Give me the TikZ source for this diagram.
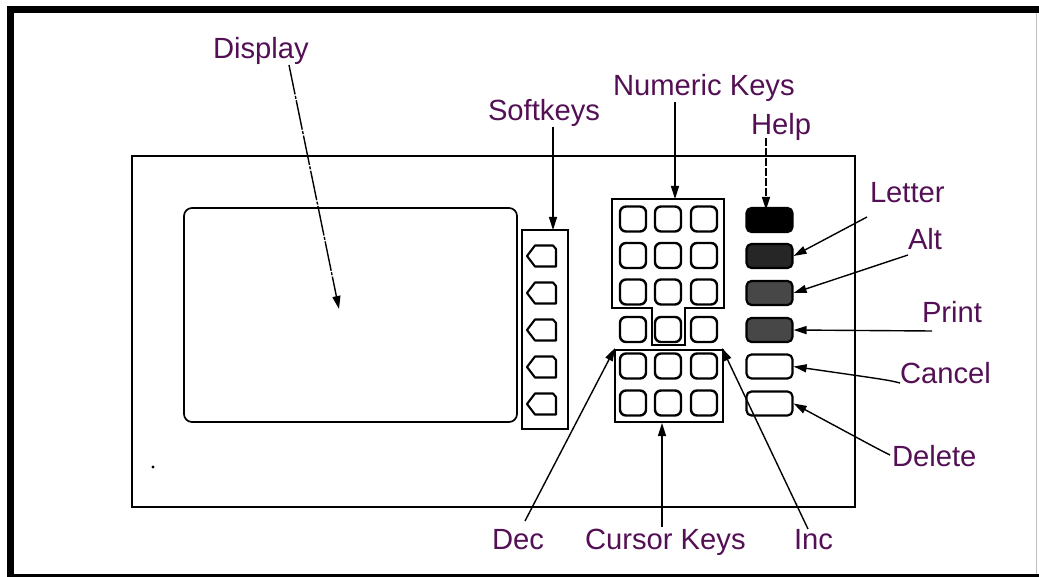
\documentclass[tikz,border=0pt]{standalone}
\usepackage{fontspec}
\setmainfont{Liberation Sans}
\usetikzlibrary{arrows.meta}
\definecolor{lab}{RGB}{84,16,84}
\tikzset{
  lbl/.style={anchor=base west, inner sep=0pt, outer sep=0pt, text=lab, font=\fontsize{29.2}{31}\selectfont},
  key/.style={draw, line width=2.4pt, rounded corners=6pt, minimum width=26pt, minimum height=25pt, inner sep=0pt},
  rkey/.style={draw, line width=2.2pt, rounded corners=5pt, minimum width=46pt, minimum height=24pt, inner sep=0pt},
  arr/.style={line width=1.4pt, -{Triangle[length=13pt,width=8pt]}},
  frame/.style={line width=2.8pt},
  soft/.style={line width=2.1pt, line join=round}
}
\begin{document}
\begin{tikzpicture}[x=1pt,y=-1pt]
\useasboundingbox (0,0) rectangle (1039,577);
% outer frame
\fill (7,6) rectangle (1039,13);
\fill (7,6) rectangle (14,577);
\fill (7,574) rectangle (1039,577);
\draw[black!25, line width=0.8pt] (1036.5,13) -- (1036.5,574);
% panel
\draw[frame] (132,156) rectangle (855,507);
% display
\draw[line width=1.7pt, rounded corners=8pt] (184,208) rectangle (517,422);
\fill (153,467) circle (1.7pt);
% softkeys
\draw[frame] (522,230) rectangle (568,429);
\foreach \y in {256,293,330,367,404}{
  \draw[soft] (527,\y) -- (535,\y-10.5) -- (553,\y-10.5) -- (556,\y-7) -- (556,\y+10.5) -- (535,\y+10.5) -- cycle;
}
% numeric outline
\draw[frame, line join=miter] (612,199) -- (724,199) -- (724,308) -- (685,308) -- (685,345) -- (652,345) -- (652,308) -- (612,308) -- cycle;
% cursor outline
\draw[frame] (615,350) rectangle (723,422);
% keys
\foreach \r/\yy in {1/219,2/255.5,3/292,4/329.5,5/366,6/403}{
  \foreach \c/\xx in {1/633,2/668,3/704}{
    \node[key] (n\r\c) at (\xx,\yy) {};
  }
}
% right keys
\node[rkey, fill=black] (kH) at (769.5,220) {};
\node[rkey, fill=black!85] (kL) at (769.5,256) {};
\node[rkey, fill=black!72] (kA) at (769.5,293) {};
\node[rkey, fill=black!72] (kP) at (769.5,330) {};
\node[rkey] (kC) at (769.5,366.5) {};
\node[rkey] (kD) at (769.5,403.5) {};
% labels
\node[lbl] (lDisplay) at (213,59) {Display};
\node[lbl] (lSoft) at (488,121) {Softkeys};
\node[lbl] (lNum) at (613,96) {Numeric Keys};
\node[lbl] (lHelp) at (751,135) {Help};
\node[lbl] (lLetter) at (870,203) {Letter};
\node[lbl] (lAlt) at (908,250) {Alt};
\node[lbl] (lPrint) at (922,323) {Print};
\node[lbl] (lCancel) at (900,384) {Cancel};
\node[lbl] (lDelete) at (892,466) {Delete};
\node[lbl] (lDec) at (492,549) {Dec};
\node[lbl] (lCursor) at (585,549) {Cursor Keys};
\node[lbl] (lInc) at (794,549) {Inc};
% connector ends
\coordinate (tDisplay) at (289,65);
\coordinate (hDisplay) at (339,309);
\coordinate (tSoft) at (553,127);
\coordinate (hSoft) at (553,230);
\coordinate (tNum) at (675,102);
\coordinate (hNum) at (675,199);
\coordinate (tHelp) at (766,138);
\coordinate (tLetter) at (867,217);
\coordinate (tAlt) at (908,255);
\coordinate (tPrint) at (932,331);
\coordinate (tCancel) at (900,383);
\coordinate (tDelete) at (890,455);
\coordinate (tDec) at (525,521);
\coordinate (hDec) at (615,348);
\coordinate (tCursor) at (662,527);
\coordinate (hCursor) at (662,423);
\coordinate (tInc) at (808,529);
\coordinate (hInc) at (722,348);
% connectors
\draw[arr, dash pattern=on 30pt off 1.5pt on 3pt off 1.5pt] (tDisplay) -- (hDisplay);
\draw[arr] (tSoft) -- (hSoft);
\draw[arr] (tNum) -- (hNum);
\draw[arr, dash pattern=on 8pt off 2pt] (tHelp) -- ([yshift=-3pt]kH.north -| tHelp);
\draw[arr] (tLetter) -- (kL.east);
\draw[arr] (tAlt) -- (kA.east);
\draw[arr] (tPrint) -- (kP.east);
\draw[arr] (tCancel) .. controls (888,380) .. (kC.east);
\draw[arr] (tDelete) .. controls (878,449) .. (kD.east);
\draw[arr] (tDec) -- (hDec);
\draw[arr] (tCursor) -- (hCursor);
\draw[arr] (tInc) -- (hInc);
\end{tikzpicture}
\end{document}
